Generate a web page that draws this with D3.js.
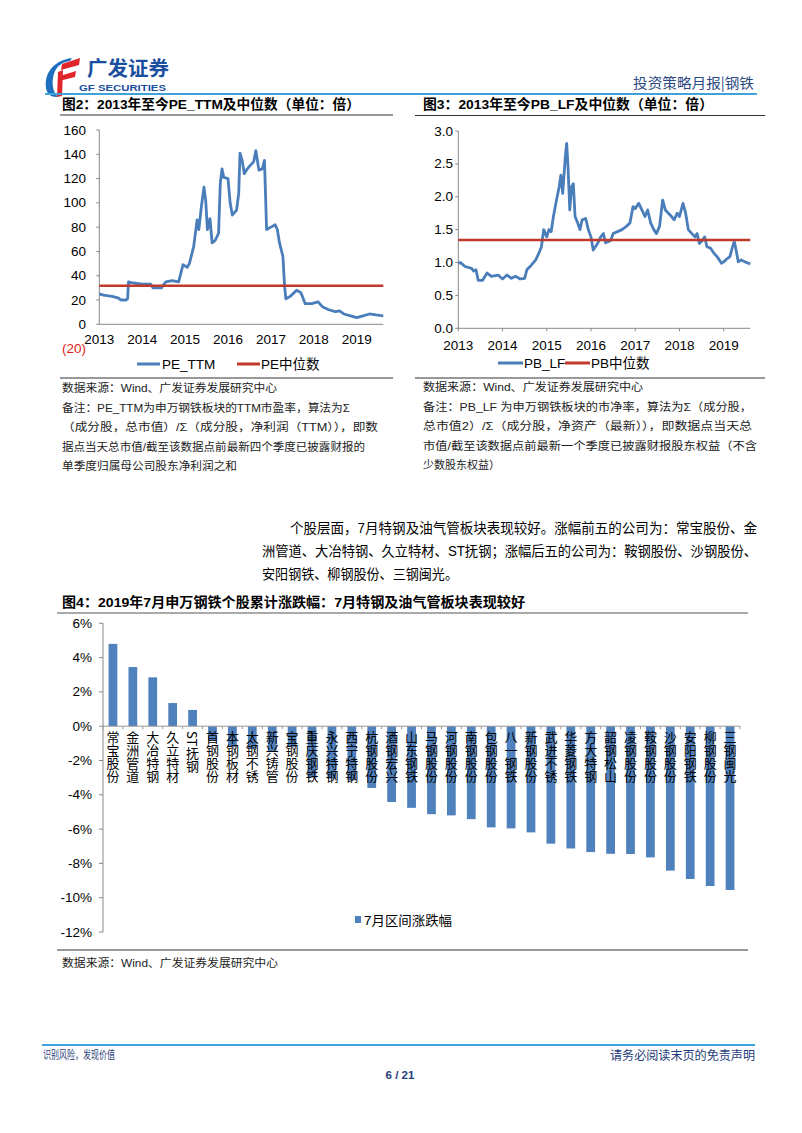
<!DOCTYPE html>
<html><head><meta charset="utf-8">
<script src="https://cdn.jsdelivr.net/npm/d3@7"></script>
<style>
body{margin:0;background:#fff}
svg{display:block}
text{font-family:"Liberation Sans",Arial,"Noto Sans CJK SC",sans-serif}
</style>
</head><body><svg id="c" width="802" height="1133"></svg>
<script>
// ---------------- DATA ----------------
const peDates = [2013.0,2013.1,2013.3,2013.45,2013.5,2013.62,2013.66,2013.68,2013.8,2014.0,2014.2,2014.25,2014.45,2014.55,2014.7,2014.85,2014.9,2014.95,2015.05,2015.1,2015.2,2015.28,2015.32,2015.38,2015.44,2015.48,2015.52,2015.58,2015.63,2015.7,2015.78,2015.82,2015.86,2015.9,2016.0,2016.05,2016.1,2016.2,2016.25,2016.28,2016.33,2016.38,2016.45,2016.5,2016.6,2016.65,2016.72,2016.8,2016.85,2016.9,2017.0,2017.1,2017.15,2017.2,2017.28,2017.32,2017.35,2017.45,2017.6,2017.7,2017.8,2017.95,2018.1,2018.2,2018.35,2018.5,2018.6,2018.7,2018.9,2019.0,2019.15,2019.3,2019.45,2019.62];
const peValues = [25,24,23,21.5,20,20,21,35,34,33,33,30,30,35,36,35,42,49,47,50,64,86,78,97,113,102,78,87,67,69,75,116,128,121,120,100,90,94,108,141,135,124,128,130,134,143,127,128,135,78,80,82,78,67,56,31,21,23,28,26,17,17,18.5,14.5,12,10.5,11,8.5,6.5,5.5,7,8.5,7.7,7];
const peMedian = 31.8;
const peTicks = [0,20,40,60,80,100,120,140,160];
const yearTicks = [2013,2014,2015,2016,2017,2018,2019];

const pbDates = [2013.0,2013.05,2013.15,2013.3,2013.35,2013.4,2013.45,2013.55,2013.65,2013.75,2013.9,2014.0,2014.1,2014.2,2014.3,2014.4,2014.5,2014.55,2014.65,2014.75,2014.82,2014.88,2014.93,2015.0,2015.05,2015.1,2015.15,2015.22,2015.28,2015.32,2015.36,2015.42,2015.45,2015.48,2015.52,2015.56,2015.6,2015.64,2015.7,2015.75,2015.8,2015.88,2015.94,2016.0,2016.05,2016.1,2016.15,2016.22,2016.28,2016.33,2016.4,2016.45,2016.5,2016.6,2016.7,2016.8,2016.88,2016.95,2017.0,2017.08,2017.15,2017.22,2017.28,2017.35,2017.42,2017.48,2017.55,2017.62,2017.68,2017.75,2017.82,2017.88,2017.95,2018.0,2018.08,2018.14,2018.2,2018.28,2018.35,2018.4,2018.45,2018.52,2018.57,2018.62,2018.7,2018.78,2018.85,2018.9,2018.95,2019.0,2019.08,2019.14,2019.2,2019.24,2019.28,2019.33,2019.4,2019.48,2019.56,2019.6];
const pbValues = [0.99,1.0,0.94,0.91,0.87,0.89,0.73,0.73,0.84,0.79,0.81,0.75,0.81,0.76,0.79,0.75,0.76,0.89,0.96,1.04,1.14,1.24,1.5,1.39,1.5,1.47,1.7,1.95,2.15,2.33,2.05,2.61,2.81,2.46,1.8,2.15,2.2,1.7,1.6,1.5,1.65,1.67,1.5,1.39,1.19,1.24,1.29,1.39,1.44,1.3,1.32,1.34,1.44,1.47,1.5,1.55,1.6,1.85,1.82,1.9,1.8,1.7,1.8,1.6,1.5,1.44,1.55,1.95,1.8,1.75,1.7,1.65,1.75,1.7,1.9,1.75,1.5,1.44,1.39,1.44,1.29,1.34,1.39,1.24,1.22,1.14,1.09,1.04,0.99,1.01,1.06,1.09,1.24,1.32,1.19,1.01,1.04,1.01,0.99,0.98];
const pbMedian = 1.343;
const pbTicks = [0,0.5,1,1.5,2,2.5,3];

const stocks = ["常宝股份","金洲管道","大冶特钢","久立特材","ST抚钢","首钢股份","本钢板材","太钢不锈","新兴铸管","宝钢股份","重庆钢铁","永兴特钢","西宁特钢","杭钢股份","酒钢宏兴","山东钢铁","马钢股份","河钢股份","南钢股份","包钢股份","八一钢铁","新钢股份","武进不锈","华菱钢铁","方大特钢","韶钢松山","凌钢股份","鞍钢股份","沙钢股份","安阳钢铁","柳钢股份","三钢闽光"];
const julyChange = [4.8,3.45,2.85,1.35,0.95,-0.85,-1.2,-1.3,-1.5,-1.2,-3.0,-3.05,-3.15,-3.6,-4.42,-4.76,-5.13,-5.2,-5.42,-5.9,-5.96,-6.19,-6.85,-7.13,-7.34,-7.44,-7.45,-7.65,-8.42,-8.91,-9.32,-9.55];
const pctTicks = [6,4,2,0,-2,-4,-6,-8,-10,-12];

// ---------------- HELPERS ----------------
const svg = d3.select("#c");
svg.append("rect").attr("width",802).attr("height",1133).attr("fill","#fff");
const BLUE = "#4a7ebb", RED = "#c0392b", NAVY = "#1f3d7a";

function txt(x, y, s, o = {}) {
  const t = svg.append("text").attr("x", x).attr("y", y).text(s)
    .attr("font-size", o.size || 12)
    .attr("fill", o.fill || "#000")
    .attr("text-anchor", o.anchor || "start")
    .attr("dominant-baseline", "central");
  if (o.bold) t.attr("font-weight", "bold");
  if (o.family) t.style("font-family", o.family);
  if (o.len) t.attr("textLength", o.len).attr("lengthAdjust", "spacingAndGlyphs");
  return t;
}
function hline(x1, x2, y, c, w) {
  svg.append("line").attr("x1", x1).attr("x2", x2).attr("y1", y).attr("y2", y)
    .attr("stroke", c).attr("stroke-width", w);
}

// ---------------- HEADER ----------------
svg.append("path").attr("d","M72,58 C55,60 44,72 46,88 C47,94 51,97 56,97 L58,97 C52,92 51,80 55,71 C58,65 63,62 70,61 Z").attr("fill","#1f6fc0");
svg.append("path").attr("d","M62,64 L80,58 L79,65 L61,70 Z").attr("fill","#e0262b");
svg.append("path").attr("d","M60,76 L76,71 L75,77 L59,81 Z").attr("fill","#e0262b");
svg.append("path").attr("d","M58,72 L63,70 L62,96 L57,97 Z").attr("fill","#e0262b");
txt(87, 67, "广发证券", {size:20, bold:true, fill:"#1a4fa0", family:"'Noto Sans CJK SC'", len:82});
txt(79, 88, "GF SECURITIES", {size:9, bold:true, fill:"#1a4fa0", len:87});
txt(754, 82, "投资策略月报|钢铁", {size:14, fill:"#2b4a80", anchor:"end", family:"'Noto Sans CJK SC'", len:121});
hline(45, 757, 94, "#3ea3db", 2);

// ---------------- CHART 2 (PE) ----------------
txt(62, 104, "图2：2013年至今PE_TTM及中位数（单位：倍）", {size:13.5, bold:true, len:298});
hline(60, 393, 115, "#333", 1);
{
  const x = d3.scaleLinear().domain([2013, 2019]).range([99.3, 356.7]);
  const y = d3.scaleLinear().domain([0, 160]).range([324.3, 130]);
  const g = svg.append("g");
  g.append("line").attr("x1", x(2013)).attr("x2", x(2013)).attr("y1", y(160)).attr("y2", y(0)).attr("stroke", "#888");
  g.append("line").attr("x1", x(2013)).attr("x2", x(2019.62)).attr("y1", y(0)).attr("y2", y(0)).attr("stroke", "#888");
  peTicks.forEach(v => {
    g.append("line").attr("x1", x(2013) - 3).attr("x2", x(2013)).attr("y1", y(v)).attr("y2", y(v)).attr("stroke", "#888");
    txt(86, y(v), String(v), {size:13.5, anchor:"end"});
  });
  txt(86, y(-20), "(20)", {size:13.5, anchor:"end", fill:"#e02020"});
  yearTicks.forEach(v => txt(x(v), 339, String(v), {size:13.5, anchor:"middle"}));
  const line = d3.line().x((d, i) => x(peDates[i])).y(d => y(d));
  g.append("path").attr("d", line(peValues)).attr("fill", "none").attr("stroke", BLUE).attr("stroke-width", 2.8).attr("stroke-linejoin","round");
  g.append("line").attr("x1", x(2013)).attr("x2", x(2019.62)).attr("y1", y(peMedian)).attr("y2", y(peMedian)).attr("stroke", RED).attr("stroke-width", 2.4);
  hline(137, 160, 364, BLUE, 3);
  txt(162, 364, "PE_TTM", {size:13.5});
  hline(237, 260, 364, RED, 3);
  txt(261, 364, "PE中位数", {size:13.5});
}
hline(60, 393, 378, "#333", 1);
const notes2 = ["数据来源：Wind、广发证券发展研究中心",
  "备注：PE_TTM为申万钢铁板块的TTM市盈率，算法为Σ",
  "（成分股，总市值）/Σ（成分股，净利润（TTM）），即数",
  "据点当天总市值/截至该数据点前最新四个季度已披露财报的",
  "单季度归属母公司股东净利润之和"];
const notes2Len = [215, 288, 316, 303, 175];
notes2.forEach((s, i) => txt(62, 388 + i * 19.5, s, {size:11, len:notes2Len[i], fill:"#222"}));

// ---------------- CHART 3 (PB) ----------------
txt(423, 104, "图3：2013年至今PB_LF及中位数（单位：倍）", {size:13.5, bold:true, len:290});
hline(415, 765, 115.5, "#333", 1);
{
  const x = d3.scaleLinear().domain([2013, 2019]).range([458.3, 723.7]);
  const y = d3.scaleLinear().domain([0, 3]).range([328.3, 131]);
  const g = svg.append("g");
  g.append("line").attr("x1", x(2013)).attr("x2", x(2013)).attr("y1", y(3)).attr("y2", y(0)).attr("stroke", "#888");
  g.append("line").attr("x1", x(2013)).attr("x2", x(2019.6)).attr("y1", y(0)).attr("y2", y(0)).attr("stroke", "#888");
  pbTicks.forEach(v => {
    g.append("line").attr("x1", x(2013) - 3).attr("x2", x(2013)).attr("y1", y(v)).attr("y2", y(v)).attr("stroke", "#888");
    txt(453, y(v), d3.format(".1f")(v), {size:13.5, anchor:"end"});
  });
  yearTicks.forEach(v => {
    g.append("line").attr("x1", x(v)).attr("x2", x(v)).attr("y1", y(0)).attr("y2", y(0) + 3).attr("stroke", "#888");
    txt(x(v), 345, String(v), {size:13.5, anchor:"middle"});
  });
  const line = d3.line().x((d, i) => x(pbDates[i])).y(d => y(d));
  g.append("path").attr("d", line(pbValues)).attr("fill", "none").attr("stroke", BLUE).attr("stroke-width", 2.8).attr("stroke-linejoin","round");
  g.append("line").attr("x1", x(2013)).attr("x2", x(2019.6)).attr("y1", y(pbMedian)).attr("y2", y(pbMedian)).attr("stroke", RED).attr("stroke-width", 2.4);
  hline(498, 523, 363, BLUE, 3);
  txt(524, 363, "PB_LF", {size:13.5});
  hline(565, 590, 363, RED, 3);
  txt(591, 363, "PB中位数", {size:13.5});
}
hline(415, 765, 378, "#333", 1);
const notes3 = ["数据来源：Wind、广发证券发展研究中心",
  "备注：PB_LF 为申万钢铁板块的市净率，算法为Σ（成分股，",
  "总市值2）/Σ（成分股，净资产（最新）），即数据点当天总",
  "市值/截至该数据点前最新一个季度已披露财报股东权益（不含",
  "少数股东权益）"];
const notes3Len = [220, 329, 329, 334, 77];
notes3.forEach((s, i) => txt(423, 387 + i * 19.5, s, {size:11, len:notes3Len[i], fill:"#222"}));

// ---------------- PARAGRAPH ----------------
const para = ["个股层面，7月特钢及油气管板块表现较好。涨幅前五的公司为：常宝股份、金",
  "洲管道、大冶特钢、久立特材、ST抚钢；涨幅后五的公司为：鞍钢股份、沙钢股份、",
  "安阳钢铁、柳钢股份、三钢闽光。"];
txt(290, 528, para[0], {size:14, len:467});
txt(262, 551, para[1], {size:14, len:495});
txt(262, 574, para[2], {size:14, len:196});

// ---------------- CHART 4 (bars) ----------------
txt(62, 602, "图4：2019年7月申万钢铁个股累计涨跌幅：7月特钢及油气管板块表现较好", {size:13.5, bold:true, len:463});
hline(57, 748, 613, "#555", 1);
{
  const x = d3.scaleBand().domain(stocks).range([103, 740]).paddingInner(0.56).paddingOuter(0.28);
  const y = d3.scaleLinear().domain([-12, 6]).range([932, 623.3]);
  const g = svg.append("g");
  g.append("line").attr("x1", 103).attr("x2", 103).attr("y1", y(6)).attr("y2", y(-12)).attr("stroke", "#888");
  pctTicks.forEach(v => {
    g.append("line").attr("x1", 99).attr("x2", 103).attr("y1", y(v)).attr("y2", y(v)).attr("stroke", "#888");
    txt(92, y(v), v + "%", {size:13.5, anchor:"end"});
  });
  g.selectAll("rect.bar").data(julyChange).enter().append("rect")
    .attr("x", (d, i) => x(stocks[i]))
    .attr("width", x.bandwidth())
    .attr("y", d => y(Math.max(0, d)))
    .attr("height", d => Math.abs(y(d) - y(0)))
    .attr("fill", "#4f81bd");
  g.append("line").attr("x1", 103).attr("x2", 740).attr("y1", y(0)).attr("y2", y(0)).attr("stroke", "#999");
  const step = x.step();
  d3.range(stocks.length + 1).forEach(i => {
    g.append("line").attr("x1", 103 + i * step).attr("x2", 103 + i * step).attr("y1", y(0)).attr("y2", y(0) + 3).attr("stroke", "#999");
  });
  stocks.forEach(s => {
    g.append("text").attr("x", x(s) + x.bandwidth() / 2).attr("y", 731).text(s)
      .attr("font-size", 13).attr("fill", "#000")
      .style("writing-mode", "vertical-rl")
      .style("font-family", "'Noto Sans CJK SC', sans-serif");
  });
  g.append("rect").attr("x", 355).attr("y", 916).attr("width", 6).attr("height", 7).attr("fill", "#4f81bd");
  txt(364, 920, "7月区间涨跌幅", {size:13, len:88});
}
hline(57, 748, 950, "#333", 1);
txt(62, 963, "数据来源：Wind、广发证券发展研究中心", {size:11, len:216, fill:"#222"});

// ---------------- FOOTER ----------------
hline(42, 755, 1045, "#3ea3db", 2);
txt(43, 1055, "识别风险，发现价值", {size:11, fill:NAVY, len:72});
txt(755, 1056, "请务必阅读末页的免责声明", {size:12.5, fill:NAVY, anchor:"end", len:145});
txt(400, 1075, "6 / 21", {size:11.5, bold:true, fill:NAVY, anchor:"middle"});
</script></body></html>
